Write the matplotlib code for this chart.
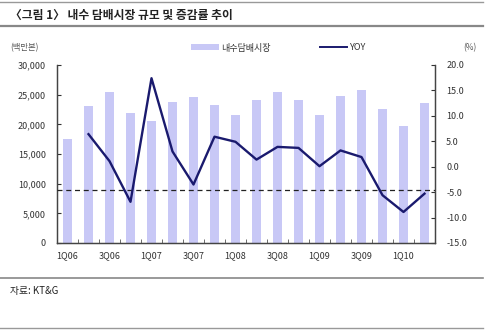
import matplotlib
matplotlib.use("Agg")
import matplotlib.pyplot as plt
from matplotlib.lines import Line2D
from matplotlib.patches import Patch
import numpy as np

plt.rcParams['font.family'] = ['Noto Sans CJK KR', 'DejaVu Sans']

quarters = ["1Q06", "2Q06", "3Q06", "4Q06", "1Q07", "2Q07", "3Q07", "4Q07",
            "1Q08", "2Q08", "3Q08", "4Q08", "1Q09", "2Q09", "3Q09", "4Q09",
            "1Q10", "2Q10"]
market = [17600, 23100, 25450, 21900, 20600, 23800, 24550, 23250,
          21600, 24100, 25400, 24100, 21600, 24800, 25850, 22600,
          19700, 23550]
yoy = [None, 6.4, 1.1, -6.9, 17.4, 3.0, -3.5, 5.9,
       4.9, 1.4, 3.9, 3.7, 0.1, 3.2, 1.9, -5.6,
       -8.9, -5.3]
ref_level = -4.5
left_ticks = [0, 5000, 10000, 15000, 20000, 25000, 30000]
right_ticks = [-15.0, -10.0, -5.0, 0.0, 5.0, 10.0, 15.0, 20.0]

bar_color = "#c8c8f6"
line_color = "#1a1a6e"
txt = "#333333"

fig = plt.figure(figsize=(5.0, 3.3), dpi=100)
W, H = 500, 330
ax = fig.add_axes([57 / W, 1 - 243 / H, (435 - 57) / W, (243 - 65) / H])
ax2 = ax.twinx()

x = np.arange(len(quarters))
ax.bar(x, market, width=0.42, color=bar_color, zorder=2)
ax.set_xlim(-0.5, len(quarters) - 0.5)
ax.set_ylim(0, 30000)
ax.set_yticks(left_ticks)
ax.set_yticklabels([f"{v:,}" for v in left_ticks])

xs = [i for i, v in enumerate(yoy) if v is not None]
ys = [v for v in yoy if v is not None]
ax2.plot(xs, ys, color=line_color, lw=1.7, zorder=5)
ax2.axhline(ref_level, color="#222222", lw=0.9, ls=(0, (4, 3)), zorder=4)
ax2.set_ylim(-15, 20)
ax2.set_yticks(right_ticks)
ax2.set_yticklabels([f"{v:.1f}" for v in right_ticks])

ax.set_xticks(x[::2])
ax.set_xticklabels(quarters[::2])
ax.set_xticks(np.arange(-0.5, len(quarters), 1), minor=True)
ax.tick_params(axis='x', which='major', length=0, labelsize=6.5, colors=txt, pad=6)
ax.tick_params(axis='x', which='minor', length=3, direction='in', color="#555555")
ax.tick_params(axis='y', length=3, direction='in', labelsize=6.5, colors=txt, pad=8)
ax2.tick_params(axis='y', length=3, direction='in', labelsize=6.5, colors=txt, pad=8)

for a in (ax, ax2):
    a.spines['top'].set_visible(False)
    for s in ('left', 'right', 'bottom'):
        a.spines[s].set_color("#444444")
        a.spines[s].set_linewidth(0.9)
ax.set_zorder(ax2.get_zorder() - 1)
ax.patch.set_visible(True)
ax2.patch.set_visible(False)

# decorations
fig.add_artist(Line2D([0, 483 / W], [1 - 2 / H, 1 - 2 / H], color="#999999", lw=1.0))
fig.add_artist(Line2D([0, 483 / W], [1 - 26 / H, 1 - 26 / H], color="#888888", lw=1.6))
fig.add_artist(Line2D([0, 483 / W], [1 - 278 / H, 1 - 278 / H], color="#888888", lw=1.2))
fig.add_artist(Line2D([0, 483 / W], [1 - 328 / H, 1 - 328 / H], color="#999999", lw=1.0))
fig.text(10 / W, 1 - 15 / H, "〈그림 1〉 내수 담배시장 규모 및 증감률 추이", fontsize=8.5,
         fontweight='bold', color="#222222", va='center', ha='left')
fig.text(10 / W, 1 - 48 / H, "(백만본)", fontsize=6, color="#555555", va='center', ha='left')
fig.text(470 / W, 1 - 48 / H, "(%)", fontsize=6, color="#555555", va='center', ha='center')
fig.text(10 / W, 1 - 291 / H, "자료: KT&G", fontsize=7, color="#222222", va='center', ha='left')

handles = [Patch(facecolor=bar_color, edgecolor='none'),
           Line2D([0], [0], color=line_color, lw=1.4)]
fig.legend(handles, ["내수담배시장", "YOY"], loc='center', bbox_to_anchor=(279 / W, 1 - 48 / H),
           ncol=2, frameon=False, fontsize=6.5, handlelength=3.0, handleheight=0.6,
           columnspacing=5.5, handletextpad=0.3, labelcolor="#333333")

fig.savefig("out.png", dpi=100)
